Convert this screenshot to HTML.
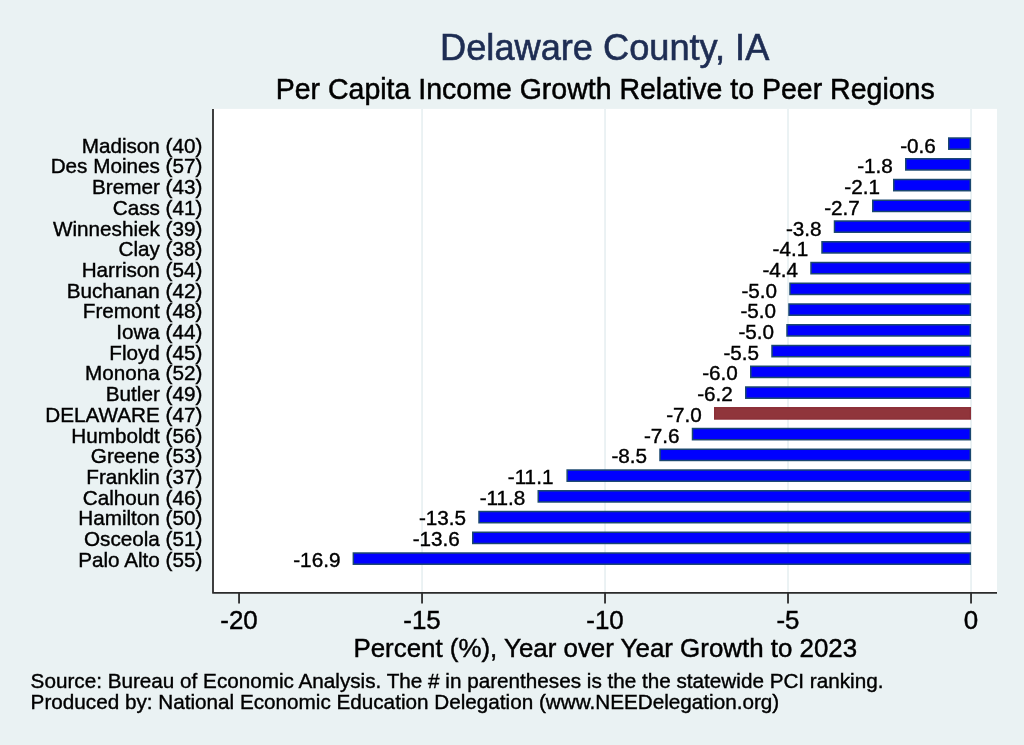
<!DOCTYPE html>
<html><head><meta charset="utf-8"><title>Delaware County, IA</title>
<style>
html,body{margin:0;padding:0;background:#eaf2f3;}
svg{display:block;font-family:"Liberation Sans",Arial,Helvetica,sans-serif;}
.yl{font-size:20.7px;text-anchor:end;fill:#000;stroke:#000;stroke-width:0.4px;}
.vl{font-size:20.7px;text-anchor:end;fill:#000;stroke:#000;stroke-width:0.4px;}
.xl{font-size:25.9px;text-anchor:middle;fill:#000;stroke:#000;stroke-width:0.45px;}
.b{fill:#0000ff;stroke:#1a476f;stroke-width:1.5;}
.g{stroke:#e8f0f2;stroke-width:1.7;}
</style></head><body>
<svg width="1024" height="745" viewBox="0 0 1024 745">
<rect x="0" y="0" width="1024" height="745" fill="#eaf2f3"/>
<rect x="212" y="108.9" width="785" height="484" fill="#ffffff"/>
<line class="g" x1="422.04" y1="108.9" x2="422.04" y2="592" />
<line class="g" x1="605.03" y1="108.9" x2="605.03" y2="592" />
<line class="g" x1="788.01" y1="108.9" x2="788.01" y2="592" />
<line class="g" x1="971.04" y1="108.9" x2="971.04" y2="592" />
<rect class="b" x="948.75" y="138.02" width="21.55" height="11.20"/>
<rect class="b" x="905.75" y="158.77" width="64.55" height="11.20"/>
<rect class="b" x="893.75" y="179.52" width="76.55" height="11.20"/>
<rect class="b" x="872.75" y="200.27" width="97.55" height="11.20"/>
<rect class="b" x="834.50" y="221.02" width="135.80" height="11.20"/>
<rect class="b" x="822.00" y="241.77" width="148.30" height="11.20"/>
<rect class="b" x="811.00" y="262.52" width="159.30" height="11.20"/>
<rect class="b" x="790.00" y="283.27" width="180.30" height="11.20"/>
<rect class="b" x="789.00" y="304.02" width="181.30" height="11.20"/>
<rect class="b" x="787.00" y="324.77" width="183.30" height="11.20"/>
<rect class="b" x="772.00" y="345.52" width="198.30" height="11.20"/>
<rect class="b" x="750.75" y="366.27" width="219.55" height="11.20"/>
<rect class="b" x="745.75" y="387.02" width="224.55" height="11.20"/>
<rect class="b" style="fill:#90353b;stroke:#8b2f37" x="714.75" y="407.77" width="255.55" height="11.20"/>
<rect class="b" x="692.50" y="428.52" width="277.80" height="11.20"/>
<rect class="b" x="660.00" y="449.27" width="310.30" height="11.20"/>
<rect class="b" x="567.15" y="470.02" width="403.15" height="11.20"/>
<rect class="b" x="538.25" y="490.77" width="432.05" height="11.20"/>
<rect class="b" x="479.00" y="511.52" width="491.30" height="11.20"/>
<rect class="b" x="472.75" y="532.27" width="497.55" height="11.20"/>
<rect class="b" x="353.35" y="553.02" width="616.95" height="11.20"/>
<text class="yl" x="202.4" y="152.70">Madison (40)</text>
<text class="vl" x="935.80" y="152.70">-0.6</text>
<text class="yl" x="202.4" y="173.40">Des Moines (57)</text>
<text class="vl" x="892.80" y="173.40">-1.8</text>
<text class="yl" x="202.4" y="194.10">Bremer (43)</text>
<text class="vl" x="880.00" y="194.10">-2.1</text>
<text class="yl" x="202.4" y="214.80">Cass (41)</text>
<text class="vl" x="859.80" y="214.80">-2.7</text>
<text class="yl" x="202.4" y="235.50">Winneshiek (39)</text>
<text class="vl" x="821.55" y="235.50">-3.8</text>
<text class="yl" x="202.4" y="256.20">Clay (38)</text>
<text class="vl" x="808.25" y="256.20">-4.1</text>
<text class="yl" x="202.4" y="276.90">Harrison (54)</text>
<text class="vl" x="798.05" y="276.90">-4.4</text>
<text class="yl" x="202.4" y="297.60">Buchanan (42)</text>
<text class="vl" x="777.05" y="297.60">-5.0</text>
<text class="yl" x="202.4" y="318.30">Fremont (48)</text>
<text class="vl" x="776.05" y="318.30">-5.0</text>
<text class="yl" x="202.4" y="339.00">Iowa (44)</text>
<text class="vl" x="774.05" y="339.00">-5.0</text>
<text class="yl" x="202.4" y="359.70">Floyd (45)</text>
<text class="vl" x="759.05" y="359.70">-5.5</text>
<text class="yl" x="202.4" y="380.40">Monona (52)</text>
<text class="vl" x="737.80" y="380.40">-6.0</text>
<text class="yl" x="202.4" y="401.10">Butler (49)</text>
<text class="vl" x="732.80" y="401.10">-6.2</text>
<text class="yl" x="202.4" y="421.80">DELAWARE (47)</text>
<text class="vl" x="701.80" y="421.80">-7.0</text>
<text class="yl" x="202.4" y="442.50">Humboldt (56)</text>
<text class="vl" x="679.55" y="442.50">-7.6</text>
<text class="yl" x="202.4" y="463.20">Greene (53)</text>
<text class="vl" x="647.05" y="463.20">-8.5</text>
<text class="yl" x="202.4" y="483.90">Franklin (37)</text>
<text class="vl" x="553.40" y="483.90">-11.1</text>
<text class="yl" x="202.4" y="504.60">Calhoun (46)</text>
<text class="vl" x="525.30" y="504.60">-11.8</text>
<text class="yl" x="202.4" y="525.30">Hamilton (50)</text>
<text class="vl" x="466.05" y="525.30">-13.5</text>
<text class="yl" x="202.4" y="546.00">Osceola (51)</text>
<text class="vl" x="459.80" y="546.00">-13.6</text>
<text class="yl" x="202.4" y="566.70">Palo Alto (55)</text>
<text class="vl" x="340.40" y="566.70">-16.9</text>
<path d="M213 108.9 V592.9 H997" fill="none" stroke="#2b2b2b" stroke-width="1.8" stroke-linejoin="round"/>
<line x1="239.05" y1="592.9" x2="239.05" y2="603.4" stroke="#2b2b2b" stroke-width="1.8"/>
<text class="xl" x="239.05" y="628.75">-20</text>
<line x1="422.04" y1="592.9" x2="422.04" y2="603.4" stroke="#2b2b2b" stroke-width="1.8"/>
<text class="xl" x="422.04" y="628.75">-15</text>
<line x1="605.03" y1="592.9" x2="605.03" y2="603.4" stroke="#2b2b2b" stroke-width="1.8"/>
<text class="xl" x="605.03" y="628.75">-10</text>
<line x1="788.01" y1="592.9" x2="788.01" y2="603.4" stroke="#2b2b2b" stroke-width="1.8"/>
<text class="xl" x="788.01" y="628.75">-5</text>
<line x1="971.04" y1="592.9" x2="971.04" y2="603.4" stroke="#2b2b2b" stroke-width="1.8"/>
<text class="xl" x="971.04" y="628.75">0</text>
<text x="604.7" y="59.6" text-anchor="middle" font-size="36.2px" fill="#1e2d53" stroke="#1e2d53" stroke-width="0.6">Delaware County, IA</text>
<text transform="translate(605.2,98.6) scale(1,1.05)" x="0" y="0" text-anchor="middle" font-size="28.5px" fill="#000" stroke="#000" stroke-width="0.5">Per Capita Income Growth Relative to Peer Regions</text>
<text x="605.3" y="656.9" text-anchor="middle" font-size="25.9px" fill="#000" stroke="#000" stroke-width="0.45">Percent (%), Year over Year Growth to 2023</text>
<text x="30.6" y="688.3" font-size="20.69px" fill="#000" stroke="#000" stroke-width="0.4">Source: Bureau of Economic Analysis. The # in parentheses is the the statewide PCI ranking.</text>
<text x="30.6" y="708.5" font-size="20.69px" fill="#000" stroke="#000" stroke-width="0.4">Produced by: National Economic Education Delegation (www.NEEDelegation.org)</text>
</svg>
</body></html>
